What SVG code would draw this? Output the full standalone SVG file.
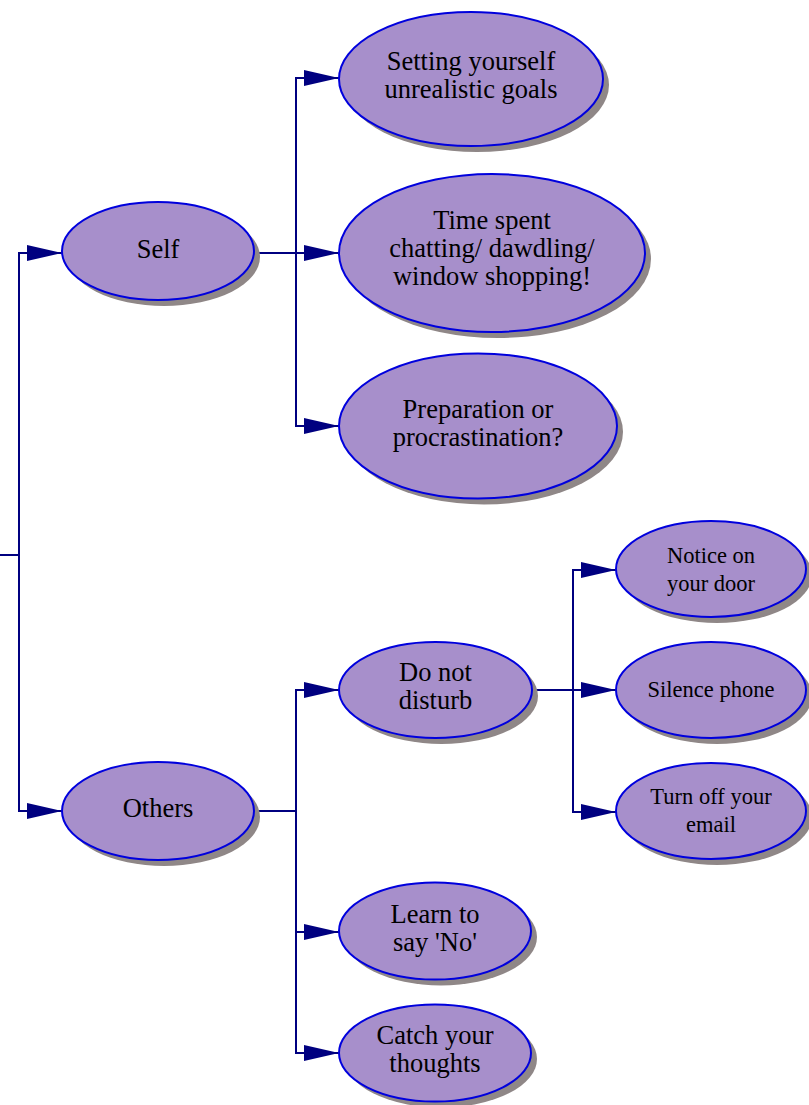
<svg xmlns="http://www.w3.org/2000/svg" width="809" height="1105" viewBox="0 0 809 1105">
<defs>
<marker id="arr" viewBox="0 0 35 16" refX="35" refY="8" markerWidth="35" markerHeight="16" markerUnits="userSpaceOnUse" orient="auto">
<path d="M0,0 L35,8 L0,16 Z" fill="#000080"/>
</marker>
</defs>
<style>
.sh{fill:#8f8787}
.nd{fill:#a78fcb;stroke:#0000dd;stroke-width:2}
.t{font-family:"Liberation Serif","Times New Roman",serif;font-size:26.5px;fill:#000;text-anchor:middle}
.s{font-size:22.5px}
.c{fill:none;stroke:#000080;stroke-width:2;marker-end:url(#arr)}
</style>
<rect width="809" height="1105" fill="#fff"/>
<g id="connectors">
<path class="c" d="M0,555 H19 V253 H62"/>
<path class="c" d="M0,555 H19 V811 H62"/>
<path class="c" d="M253,253 H296 V78 H339"/>
<path class="c" d="M253,253 H296 V253 H339"/>
<path class="c" d="M253,253 H296 V426 H339"/>
<path class="c" d="M253,811 H296 V690 H339"/>
<path class="c" d="M253,811 H296 V932 H339"/>
<path class="c" d="M253,811 H296 V1053 H339"/>
<path class="c" d="M532,690 H573 V570 H616"/>
<path class="c" d="M532,690 H573 V690 H616"/>
<path class="c" d="M532,690 H573 V812 H616"/>
</g>
<g id="self">
<ellipse class="sh" cx="164" cy="257" rx="96" ry="49"/>
<ellipse class="nd" cx="158" cy="251" rx="96" ry="49"/>
<text class="t" x="158" y="258">Self</text>
</g>
<g id="others">
<ellipse class="sh" cx="164" cy="817" rx="96" ry="49"/>
<ellipse class="nd" cx="158" cy="811" rx="96" ry="49"/>
<text class="t" x="158" y="817">Others</text>
</g>
<g id="goals">
<ellipse class="sh" cx="477" cy="85" rx="132" ry="67"/>
<ellipse class="nd" cx="471" cy="79" rx="132" ry="67"/>
<text class="t" x="471" y="69.5">Setting yourself</text>
<text class="t" x="471" y="97.5">unrealistic goals</text>
</g>
<g id="time">
<ellipse class="sh" cx="498" cy="259" rx="153" ry="79"/>
<ellipse class="nd" cx="492" cy="253" rx="153" ry="79"/>
<text class="t" x="492" y="229">Time spent</text>
<text class="t" x="492" y="257">chatting/ dawdling/</text>
<text class="t" x="492" y="285">window shopping!</text>
</g>
<g id="prep">
<ellipse class="sh" cx="484" cy="432" rx="139" ry="72.5"/>
<ellipse class="nd" cx="478" cy="426" rx="139" ry="72.5"/>
<text class="t" x="478" y="417.5">Preparation or</text>
<text class="t" x="478" y="445.5">procrastination?</text>
</g>
<g id="dnd">
<ellipse class="sh" cx="441.5" cy="696" rx="96.5" ry="48"/>
<ellipse class="nd" cx="435.5" cy="690" rx="96.5" ry="48"/>
<text class="t" x="435.5" y="681">Do not</text>
<text class="t" x="435.5" y="709">disturb</text>
</g>
<g id="learn">
<ellipse class="sh" cx="441" cy="937" rx="96" ry="48.5"/>
<ellipse class="nd" cx="435" cy="931" rx="96" ry="48.5"/>
<text class="t" x="435" y="923">Learn to</text>
<text class="t" x="435" y="951">say 'No'</text>
</g>
<g id="catch">
<ellipse class="sh" cx="441" cy="1059" rx="96" ry="48.5"/>
<ellipse class="nd" cx="435" cy="1053" rx="96" ry="48.5"/>
<text class="t" x="435" y="1044">Catch your</text>
<text class="t" x="435" y="1072">thoughts</text>
</g>
<g id="notice">
<ellipse class="sh" cx="717" cy="575" rx="95" ry="48"/>
<ellipse class="nd" cx="711" cy="569" rx="95" ry="48"/>
<text class="t s" x="711" y="563">Notice on</text>
<text class="t s" x="711" y="591">your door</text>
</g>
<g id="silence">
<ellipse class="sh" cx="717" cy="696" rx="95" ry="48"/>
<ellipse class="nd" cx="711" cy="690" rx="95" ry="48"/>
<text class="t s" x="711" y="697">Silence phone</text>
</g>
<g id="email">
<ellipse class="sh" cx="717" cy="817" rx="95" ry="48"/>
<ellipse class="nd" cx="711" cy="811" rx="95" ry="48"/>
<text class="t s" x="711" y="804">Turn off your</text>
<text class="t s" x="711" y="832">email</text>
</g>
</svg>
